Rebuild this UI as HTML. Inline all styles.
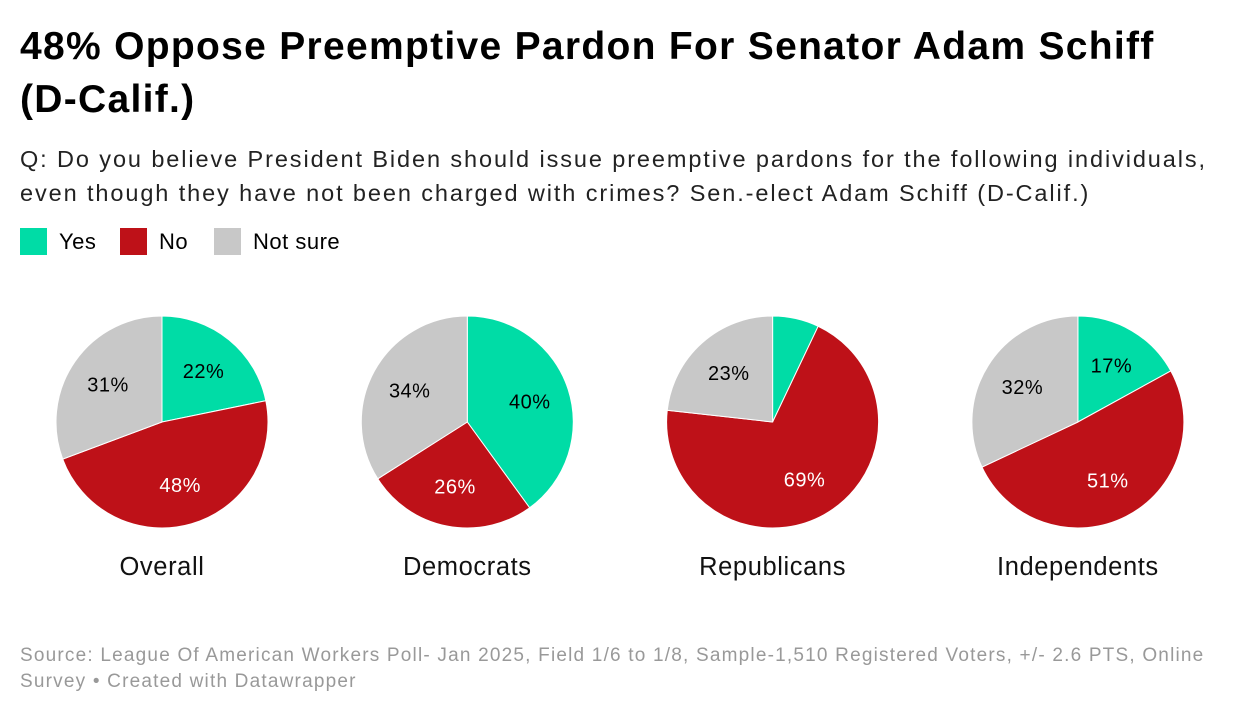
<!DOCTYPE html>
<html><head><meta charset="utf-8">
<style>
body{margin:0;width:1240px;height:714px;background:#fff;font-family:"Liberation Sans",sans-serif;color:#000;position:relative;overflow:hidden}
h1{position:absolute;left:20px;top:20px;margin:0;font-size:39px;line-height:53px;font-weight:bold;width:1200px;letter-spacing:1.3px;white-space:nowrap}
.sub{position:absolute;left:20px;top:142px;font-size:23.5px;line-height:34px;color:#222;white-space:nowrap;letter-spacing:1.9px}
.li{position:absolute;top:228px;display:flex;align-items:center;font-size:22px;letter-spacing:0.5px}
.sw{width:27px;height:27px;margin-right:12px}
.foot{position:absolute;left:20px;top:643px;font-size:19px;line-height:26px;color:#999;white-space:nowrap;letter-spacing:1.2px}
svg{position:absolute;left:0;top:0}
</style></head><body>
<h1>48% Oppose Preemptive Pardon For Senator Adam Schiff<br>(D-Calif.)</h1>
<div class="sub">Q: Do you believe President Biden should issue preemptive pardons for the following individuals,<br>even though they have not been charged with crimes? Sen.-elect Adam Schiff (D-Calif.)</div>
<div class="li" style="left:20px"><div class="sw" style="background:#00dca6"></div>Yes</div>
<div class="li" style="left:120px"><div class="sw" style="background:#be1118"></div>No</div>
<div class="li" style="left:214px"><div class="sw" style="background:#c8c8c8"></div>Not sure</div>
<svg id="chart" width="1240" height="714"></svg>
<div class="foot">Source: League Of American Workers Poll- Jan 2025, Field 1/6 to 1/8, Sample-1,510 Registered Voters, +/- 2.6 PTS, Online<br>Survey • Created with Datawrapper</div>
<script>
const groups=["Overall","Democrats","Republicans","Independents"];
const yesVals=[22,40,7,17];
const noVals=[48,26,69,51];
const notSureVals=[31,34,23,32];
const colors=["#00dca6","#be1118","#c8c8c8"];
const textColors=["#000","#fff","#000"];
const svg=document.getElementById('chart');
const NS="http://www.w3.org/2000/svg";
const R=106, cy=422;
function cxFor(i){return 162+i*305.3;}
groups.forEach((g,i)=>{
  const cx=cxFor(i);
  const vals=[yesVals[i],noVals[i],notSureVals[i]];
  const tot=vals.reduce((a,b)=>a+b,0);
  let a0=0;
  vals.forEach((v,k)=>{
    const a1=a0+v/tot*Math.PI*2;
    const x0=cx+R*Math.sin(a0),y0=cy-R*Math.cos(a0),x1=cx+R*Math.sin(a1),y1=cy-R*Math.cos(a1);
    const p=document.createElementNS(NS,'path');
    p.setAttribute('d',`M${cx},${cy}L${x0},${y0}A${R},${R} 0 ${a1-a0>Math.PI?1:0} 1 ${x1},${y1}Z`);
    p.setAttribute('fill',colors[k]);p.setAttribute('stroke','#fff');p.setAttribute('stroke-width','1');
    
    
    svg.appendChild(p);
    if(v>=10){
      const am=(a0+a1)/2,rr=R*0.62;
      const t=document.createElementNS(NS,'text');
      t.setAttribute('x',cx+rr*Math.sin(am));t.setAttribute('y',cy-rr*Math.cos(am)+7);
      t.setAttribute('text-anchor','middle');t.setAttribute('font-size','20');
      t.setAttribute('fill',textColors[k]);t.setAttribute('font-family','Liberation Sans, sans-serif');
      t.setAttribute('letter-spacing','0.5');
      t.textContent=v+'%';
      
      
      svg.appendChild(t);
    }
    a0=a1;
  });
  const l=document.createElementNS(NS,'text');
  l.setAttribute('x',cx);l.setAttribute('y',575);l.setAttribute('text-anchor','middle');
  l.setAttribute('font-size','25.5');l.setAttribute('font-family','Liberation Sans, sans-serif');l.setAttribute('fill','#111');
  l.setAttribute('letter-spacing','0.6');
  l.textContent=g;
  
  
  svg.appendChild(l);
});
</script>
</body></html>
